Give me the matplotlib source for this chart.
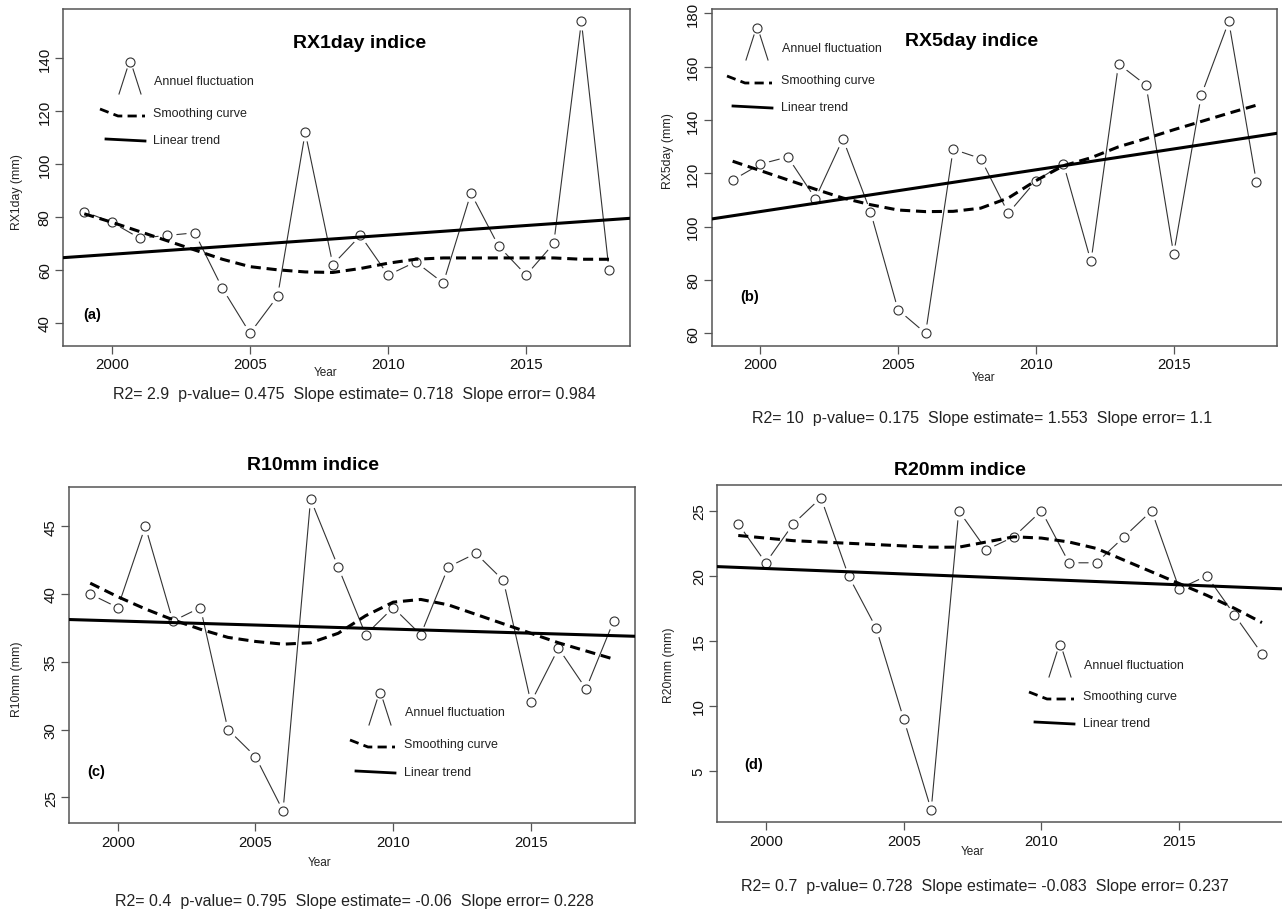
import numpy as np
import matplotlib
matplotlib.use("Agg")
import matplotlib.pyplot as plt
from matplotlib.lines import Line2D

plt.rcParams['font.family'] = ['Liberation Sans', 'DejaVu Sans']

years = np.arange(1999, 2019)

# valeurs annuelles
rx1day = [82, 78, 72, 73, 74, 53, 36, 50, 112, 62, 73, 58, 63, 55, 89, 69, 58, 70, 154, 60]
rx5day = [117.4, 123.4, 126.1, 110.5, 132.9, 105.6, 68.8, 60, 129, 125.5,
          105, 117.1, 123.6, 86.9, 161, 153, 89.7, 149.2, 176.9, 116.8]
r10mm = [40, 39, 45, 38, 39, 30, 28, 24, 47, 42, 37, 39, 37, 42, 43, 41, 32, 36, 33, 38]
r20mm = [24, 21, 24, 26, 20, 16, 9, 2, 25, 22, 23, 25, 21, 21, 23, 25, 19, 20, 17, 14]

# courbes de lissage
smooth_rx1 = [81.2, 78, 74.5, 71, 67.5, 64, 61.2, 60, 59.2, 59, 60.5, 62.5, 64, 64.5,
              64.5, 64.5, 64.5, 64.5, 64, 64]
smooth_rx5 = [124.5, 121, 117.5, 114, 110.7, 108.2, 106.2, 105.6, 105.7, 106.9,
              110.7, 117.2, 122.8, 125.8, 129.9, 133, 136.3, 139.4, 142.5, 145.5]
smooth_r10 = [40.8, 39.8, 38.9, 38.1, 37.4, 36.8, 36.5, 36.3, 36.4, 37.1, 38.4, 39.4,
              39.6, 39.2, 38.5, 37.8, 37.1, 36.4, 35.8, 35.2]
smooth_r20 = [23.1, 22.9, 22.7, 22.6, 22.5, 22.4, 22.3, 22.2, 22.2, 22.6, 23.0, 22.9,
              22.6, 22.1, 21.2, 20.3, 19.4, 18.5, 17.5, 16.4]

titles = ["RX1day indice", "RX5day indice", "R10mm indice", "R20mm indice"]
ylabels = ["RX1day (mm)", "RX5day (mm)", "R10mm (mm)", "R20mm (mm)"]
letters = ["(a)", "(b)", "(c)", "(d)"]
stats = ["R2= 2.9  p-value= 0.475  Slope estimate= 0.718  Slope error= 0.984",
         "R2= 10  p-value= 0.175  Slope estimate= 1.553  Slope error= 1.1",
         "R2= 0.4  p-value= 0.795  Slope estimate= -0.06  Slope error= 0.228",
         "R2= 0.7  p-value= 0.728  Slope estimate= -0.083  Slope error= 0.237"]
yticks = [[40, 60, 80, 100, 120, 140], [60, 80, 100, 120, 140, 160, 180],
          [25, 30, 35, 40, 45], [5, 10, 15, 20, 25]]
xticks = [2000, 2005, 2010, 2015]

W, H = 1282, 912
fig = plt.figure(figsize=(W / 100, H / 100), dpi=100)

def fx(x):
    return x / W

def fy(y):
    return 1 - y / H

# mise en page en pixels (gauche, haut, droite, bas)
boxes = [(63.3, 10, 630, 346.7), (711.7, 10, 1277.3, 346.7),
         (69.3, 487.7, 634.5, 824.3), (717.3, 486.3, 1282.9, 823.3)]
title_pos = [(360, 44), (972, 41), (313, 466), (960, 471)]
ylab_pos = [(17, 192), (668, 151), (17, 679), (669, 665)]
year_pos = [(326, 373), (984, 378), (320, 863), (973, 852)]
stat_pos = [(354, 395), (982, 419), (354, 902), (985, 887)]
letter_pos = [(92, 315), (750, 297), (96, 772), (754, 765)]
# legende : (x cercle, y cercle, x texte, y ligne 1, y ligne 2, y ligne 3, x debut)
leg_pos = [(130, 63, 154, 82, 114, 141, 100),
           (757, 29, 782, 49, 81, 108, 727),
           (380, 694, 405, 713, 745, 773, 350),
           (1060, 646, 1084, 666, 697, 724, 1029)]

values = [rx1day, rx5day, r10mm, r20mm]
smooths = [smooth_rx1, smooth_rx5, smooth_r10, smooth_r20]

gray = "#555555"
for i in range(4):
    l, t, r, b = boxes[i]
    ax = fig.add_axes([fx(l), fy(b), (r - l) / W, (b - t) / H])
    y = np.array(values[i])
    ax.plot(years, y, color="#333333", lw=0.8, zorder=1)
    ax.plot(years, y, "o", ms=13, color="white", mec="none", zorder=2)
    ax.plot(years, y, "o", ms=6.5, mfc="none", mec="#333333", mew=0.8, zorder=3)
    m, c0 = np.polyfit(years, y, 1)
    ax.axline((2008.5, m * 2008.5 + c0), slope=m, color="black", lw=2.2, zorder=4)
    ax.plot(years, smooths[i], color="black", lw=2.2, ls=(0, (3.3, 1.9)), zorder=5)

    ax.set_xlim(1998.24, 2018.76)
    rng = y.max() - y.min()
    ax.set_ylim(y.min() - 0.04 * rng, y.max() + 0.04 * rng)
    ax.set_xticks(xticks)
    ax.set_yticks(yticks[i])
    ax.tick_params(length=5.8, width=0.9, color=gray, labelsize=10.8,
                   labelcolor="#111111")
    ax.tick_params(axis="x", pad=2.5)
    ax.tick_params(axis="y", pad=2.5)
    for lbl in ax.get_yticklabels():
        lbl.set_rotation(90)
        lbl.set_va("center")
    for s in ax.spines.values():
        s.set_color(gray)
        s.set_linewidth(1.1)

    tx, ty = title_pos[i]
    fig.text(fx(tx), fy(ty), titles[i], ha="center", va="center",
             fontsize=14, fontweight="bold")
    lx, ly = ylab_pos[i]
    fig.text(fx(lx), fy(ly), ylabels[i], ha="center", va="center",
             rotation=90, fontsize=8.8, color="#222222")
    yx, yy = year_pos[i]
    fig.text(fx(yx), fy(yy), "Year", ha="center", va="center", fontsize=8.5,
             color="#222222")
    sx, sy = stat_pos[i]
    fig.text(fx(sx), fy(sy), stats[i], ha="center", va="center", fontsize=11.5,
             color="#222222")
    px, py = letter_pos[i]
    fig.text(fx(px), fy(py), letters[i], ha="center", va="center",
             fontsize=10.5, fontweight="bold")

    # legende dessinee a la main comme dans l'original
    cx, cy, txt_x, y1, y2, y3, x0 = leg_pos[i]
    fig.add_artist(Line2D([fx(cx)], [fy(cy)], marker="o", ms=6.5, mfc="none",
                          mec="#333333", mew=0.8, transform=fig.transFigure))
    fig.add_artist(Line2D([fx(cx - 11), fx(cx - 3)], [fy(cy + 32), fy(cy + 7)],
                          color="#333333", lw=0.8, transform=fig.transFigure))
    fig.add_artist(Line2D([fx(cx + 11), fx(cx + 3)], [fy(cy + 32), fy(cy + 7)],
                          color="#333333", lw=0.8, transform=fig.transFigure))
    fig.text(fx(txt_x), fy(y1), "Annuel fluctuation", ha="left", va="center",
             fontsize=9, color="#222222")
    fig.add_artist(Line2D([fx(x0), fx(x0 + 18), fx(x0 + 45)],
                          [fy(y2 - 4), fy(y2 + 3), fy(y2 + 3)], color="black",
                          lw=2.0, ls=(0, (3.3, 1.9)), transform=fig.transFigure))
    fig.text(fx(txt_x - 1), fy(y2), "Smoothing curve", ha="left", va="center",
             fontsize=9, color="#222222")
    fig.add_artist(Line2D([fx(x0 + 6), fx(x0 + 45)], [fy(y3 - 1), fy(y3 + 1)],
                          color="black", lw=2.0, transform=fig.transFigure))
    fig.text(fx(txt_x - 1), fy(y3), "Linear trend", ha="left", va="center",
             fontsize=9, color="#222222")

fig.savefig("out.png", dpi=100, facecolor="white")
